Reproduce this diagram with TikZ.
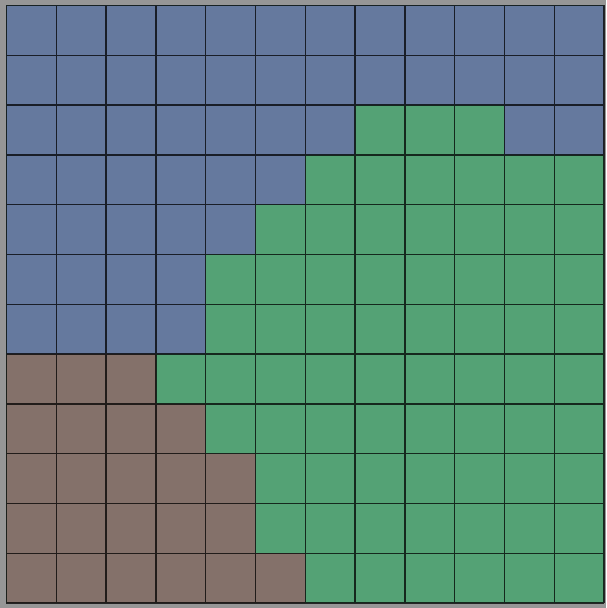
\documentclass[tikz,border=0pt]{standalone}
\usepackage{tikz}
\usepackage{xcolor}

\definecolor{cellblue}{RGB}{101,121,158}
\definecolor{cellgreen}{RGB}{84,162,117}
\definecolor{cellbrown}{RGB}{132,113,106}
\definecolor{edgegray}{RGB}{150,150,150}

\begin{document}
\begin{tikzpicture}[x=1cm,y=1cm]

  % styles
  \tikzstyle{gridline} = [line width=0.8pt, draw=black, opacity=0.75]

  % frame
  \fill[edgegray] (-0.13,-0.1) rectangle (12.04,12.11);
  \useasboundingbox (-0.13,-0.1) rectangle (12.04,12.11);

  % green region (whole board first)
  \fill[cellgreen] (0,0) rectangle (12,12);

  % blue region
  \fill[cellblue] (0,12) -- (12,12) -- (12,10) -- (7,10) -- (7,9) -- (6,9) -- (6,8)
    -- (5,8) -- (5,7) -- (4,7) -- (4,5) -- (0,5) -- cycle;
  \fill[cellblue] (10,9) rectangle (12,10);

  % brown region
  \fill[cellbrown] (0,5) -- (3,5) -- (3,4) -- (4,4) -- (4,3) -- (5,3) -- (5,1)
    -- (6,1) -- (6,0) -- (0,0) -- cycle;

  % cells
  \draw[gridline] (0,0) grid (12,12);

\end{tikzpicture}
\end{document}
